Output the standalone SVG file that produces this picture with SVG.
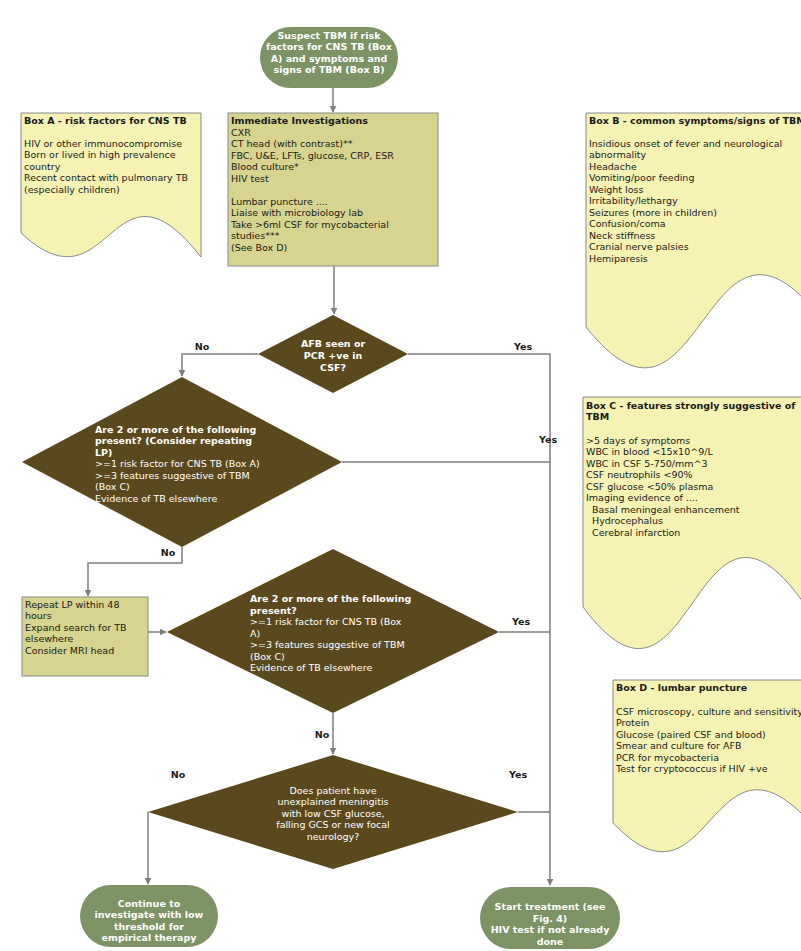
<svg xmlns="http://www.w3.org/2000/svg" width="801" height="951" viewBox="0 0 801 951">
<style>
text{font-family:"DejaVu Sans",Verdana,sans-serif;font-size:9.5px}
.b{font-weight:bold}
.w{fill:#ffffff}
.k{fill:#1a1a1a}
.c{text-anchor:middle}
.doc{fill:#f6f2b4;stroke:#8a8a8a;stroke-width:1}
.box{fill:#d6d48e;stroke:#8a8a8a;stroke-width:1}
.dia{fill:#5a491d;stroke:none}
.term{fill:#7b9365;stroke:none}
.ln{fill:none;stroke:#7f7f7f;stroke-width:1.5}
</style>
<defs>
<marker id="ar" viewBox="0 0 10 10" refX="9" refY="5" markerWidth="7" markerHeight="7" markerUnits="userSpaceOnUse" orient="auto">
<path d="M0,0 L10,5 L0,10 Z" fill="#7f7f7f"/>
</marker>
</defs>
<rect width="801" height="951" fill="#ffffff"/>

<g id="connectors">
<path class="ln" d="M333,88 V112" marker-end="url(#ar)"/>
<path class="ln" d="M334,266 V314" marker-end="url(#ar)"/>
<path class="ln" d="M258,354 H182 V376" marker-end="url(#ar)"/>
<path class="ln" d="M408,354 H550 V885" marker-end="url(#ar)"/>
<path class="ln" d="M342,462 H550"/>
<path class="ln" d="M182,547 V563 H88 V596" marker-end="url(#ar)"/>
<path class="ln" d="M148,632 H166" marker-end="url(#ar)"/>
<path class="ln" d="M499,632 H550"/>
<path class="ln" d="M333,713 V754" marker-end="url(#ar)"/>
<path class="ln" d="M518,812 H550"/>
<path class="ln" d="M148,812 V884" marker-end="url(#ar)"/>
<text class="b k c" x="202" y="350">No</text>
<text class="b k c" x="523" y="350">Yes</text>
<text class="b k c" x="548" y="443">Yes</text>
<text class="b k c" x="168" y="556">No</text>
<text class="b k c" x="521" y="625">Yes</text>
<text class="b k c" x="322" y="738">No</text>
<text class="b k c" x="178" y="778">No</text>
<text class="b k c" x="518" y="778">Yes</text>
</g>

<g id="start">
<rect class="term" x="260" y="27" width="138" height="61" rx="30.5"/>
<text class="b w c" x="329" y="38.5">Suspect TBM if risk</text>
<text class="b w c" x="329" y="50">factors for CNS TB (Box</text>
<text class="b w c" x="329" y="61.5">A) and symptoms and</text>
<text class="b w c" x="329" y="73">signs of TBM (Box B)</text>
</g>

<g id="boxA">
<path class="doc" d="M21,113 H201 V257 C111,142 111,317 21,233 Z"/>
<text class="b k" x="24" y="123.5">Box A - risk factors for CNS TB</text>
<text class="k" x="24" y="146.5">HIV or other immunocompromise</text>
<text class="k" x="24" y="158">Born or lived in high prevalence</text>
<text class="k" x="24" y="169.5">country</text>
<text class="k" x="24" y="181">Recent contact with pulmonary TB</text>
<text class="k" x="24" y="192.5">(especially children)</text>
</g>

<g id="investigations">
<rect class="box" x="228" y="113" width="210" height="153"/>
<text class="b k" x="231" y="124">Immediate Investigations</text>
<text class="k" x="231" y="135.5">CXR</text>
<text class="k" x="231" y="147">CT head (with contrast)**</text>
<text class="k" x="231" y="158.5">FBC, U&amp;E, LFTs, glucose, CRP, ESR</text>
<text class="k" x="231" y="170">Blood culture*</text>
<text class="k" x="231" y="181.5">HIV test</text>
<text class="k" x="231" y="204.5">Lumbar puncture ....</text>
<text class="k" x="231" y="216">Liaise with microbiology lab</text>
<text class="k" x="231" y="227.5">Take &gt;6ml CSF for mycobacterial</text>
<text class="k" x="231" y="239">studies***</text>
<text class="k" x="231" y="250.5">(See Box D)</text>
</g>

<g id="boxB">
<path class="doc" d="M586,113 H821 V319 C703,165 703,474 586,327 Z"/>
<text class="b k" x="589" y="123.5">Box B - common symptoms/signs of TBM</text>
<text class="k" x="589" y="146.5">Insidious onset of fever and neurological</text>
<text class="k" x="589" y="158">abnormality</text>
<text class="k" x="589" y="169.5">Headache</text>
<text class="k" x="589" y="181">Vomiting/poor feeding</text>
<text class="k" x="589" y="192.5">Weight loss</text>
<text class="k" x="589" y="204">Irritability/lethargy</text>
<text class="k" x="589" y="215.5">Seizures (more in children)</text>
<text class="k" x="589" y="227">Confusion/coma</text>
<text class="k" x="589" y="238.5">Neck stiffness</text>
<text class="k" x="589" y="250">Cranial nerve palsies</text>
<text class="k" x="589" y="261.5">Hemiparesis</text>
</g>

<g id="boxC">
<path class="doc" d="M583,397 H803 V602 C693,448 693,755 583,607 Z"/>
<text class="b k" x="586" y="408.5">Box C - features strongly suggestive of</text>
<text class="b k" x="586" y="420">TBM</text>
<text class="k" x="586" y="443.5">&gt;5 days of symptoms</text>
<text class="k" x="586" y="455">WBC in blood &lt;15x10^9/L</text>
<text class="k" x="586" y="466.5">WBC in CSF 5-750/mm^3</text>
<text class="k" x="586" y="478">CSF neutrophils &lt;90%</text>
<text class="k" x="586" y="489.5">CSF glucose &lt;50% plasma</text>
<text class="k" x="586" y="501">Imaging evidence of ....</text>
<text class="k" x="592" y="512.5">Basal meningeal enhancement</text>
<text class="k" x="592" y="524">Hydrocephalus</text>
<text class="k" x="592" y="535.5">Cerebral infarction</text>
</g>

<g id="boxD">
<path class="doc" d="M613,680 H808 V820 C710,715 710,925 613,823 Z"/>
<text class="b k" x="616" y="691">Box D - lumbar puncture</text>
<text class="k" x="616" y="714.5">CSF microscopy, culture and sensitivity</text>
<text class="k" x="616" y="726">Protein</text>
<text class="k" x="616" y="737.5">Glucose (paired CSF and blood)</text>
<text class="k" x="616" y="749">Smear and culture for AFB</text>
<text class="k" x="616" y="760.5">PCR for mycobacteria</text>
<text class="k" x="616" y="772">Test for cryptococcus if HIV +ve</text>
</g>

<g id="decision1">
<polygon class="dia" points="333,315 408,354 333,393 258,354"/>
<text class="b w c" x="333" y="346.5">AFB seen or</text>
<text class="b w c" x="333" y="358.5">PCR +ve in</text>
<text class="b w c" x="333" y="370.5">CSF?</text>
</g>

<g id="decision2">
<polygon class="dia" points="182,377 342,462 182,547 22,462"/>
<text class="b w" x="95" y="432.5">Are 2 or more of the following</text>
<text class="b w" x="95" y="444">present? (Consider repeating</text>
<text class="b w" x="95" y="455.5">LP)</text>
<text class="w" x="95" y="467">&gt;=1 risk factor for CNS TB (Box A)</text>
<text class="w" x="95" y="478.5">&gt;=3 features suggestive of TBM</text>
<text class="w" x="95" y="490">(Box C)</text>
<text class="w" x="95" y="501.5">Evidence of TB elsewhere</text>
</g>

<g id="repeatLP">
<rect class="box" x="22" y="597" width="126" height="79"/>
<text class="k" x="25" y="607.5">Repeat LP within 48</text>
<text class="k" x="25" y="619">hours</text>
<text class="k" x="25" y="630.5">Expand search for TB</text>
<text class="k" x="25" y="642">elsewhere</text>
<text class="k" x="25" y="653.5">Consider MRI head</text>
</g>

<g id="decision3">
<polygon class="dia" points="333,549 499,632 333,713 167,632"/>
<text class="b w" x="250" y="602">Are 2 or more of the following</text>
<text class="b w" x="250" y="613.5">present?</text>
<text class="w" x="250" y="625">&gt;=1 risk factor for CNS TB (Box</text>
<text class="w" x="250" y="636.5">A)</text>
<text class="w" x="250" y="648">&gt;=3 features suggestive of TBM</text>
<text class="w" x="250" y="659.5">(Box C)</text>
<text class="w" x="250" y="671">Evidence of TB elsewhere</text>
</g>

<g id="decision4">
<polygon class="dia" points="333,755 518,812 333,869 148,812"/>
<text class="w c" x="333" y="793.5">Does patient have</text>
<text class="w c" x="333" y="805">unexplained meningitis</text>
<text class="w c" x="333" y="816.5">with low CSF glucose,</text>
<text class="w c" x="333" y="828">falling GCS or new focal</text>
<text class="w c" x="333" y="839.5">neurology?</text>
</g>

<g id="continue">
<rect class="term" x="80" y="885" width="138" height="62" rx="31"/>
<text class="b w c" x="149" y="906.5">Continue to</text>
<text class="b w c" x="149" y="918">investigate with low</text>
<text class="b w c" x="149" y="929.5">threshold for</text>
<text class="b w c" x="149" y="941">empirical therapy</text>
</g>

<g id="treat">
<rect class="term" x="480" y="887" width="140" height="62" rx="31"/>
<text class="b w c" x="550" y="910">Start treatment (see</text>
<text class="b w c" x="550" y="921.5">Fig. 4)</text>
<text class="b w c" x="550" y="933">HIV test if not already</text>
<text class="b w c" x="550" y="944.5">done</text>
</g>
</svg>
